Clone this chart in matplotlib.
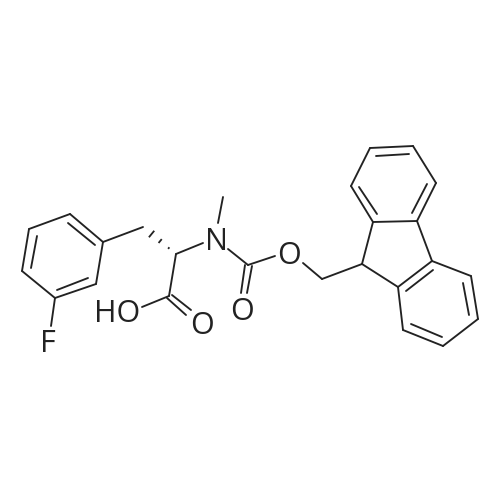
import matplotlib
matplotlib.use("Agg")
import matplotlib.pyplot as plt
import numpy as np

INK = "#222222"
# atom positions (pixels, y down)
atoms = {
    "r1": (70, 214), "r2": (29, 229), "r3": (22, 271), "r4": (55, 298), "r5": (96, 284), "r6": (103, 242),
    "ch2": (143, 227), "ca": (176, 254), "cooh": (169, 296),
    "me": (223, 197), "cb": (248, 265), "och2": (322, 279), "c9": (362, 264),
    "a1": (373, 222), "a2": (351, 186), "a3": (370, 148), "a4": (413, 146), "a5": (436, 183), "a6": (417, 221),
    "b1": (432, 261), "b2": (471, 276), "b3": (478, 319), "b4": (443, 346), "b5": (403, 330), "b6": (398, 287),
}
bonds = [("r1", "r2"), ("r2", "r3"), ("r3", "r4"), ("r4", "r5"), ("r5", "r6"), ("r6", "r1"), ("r6", "ch2"),
         ("ca", "cooh"), ("och2", "c9"), ("c9", "a1"), ("a1", "a2"), ("a2", "a3"), ("a3", "a4"), ("a4", "a5"),
         ("a5", "a6"), ("a6", "a1"), ("a6", "b1"), ("b1", "b2"), ("b2", "b3"), ("b3", "b4"), ("b4", "b5"),
         ("b5", "b6"), ("b6", "b1"), ("b6", "c9")]
# bond segments that stop short of a label, and inner lines of double bonds
segments = [
    ((176, 254), (203, 243)), ((218, 223), (223, 197)), ((228, 249), (248, 265)),
    ((248, 265), (275, 256)), ((303, 263), (322, 279)),
    ((169, 296), (142, 307)), ((55, 298), (51, 326)),
    ((172, 295), (191, 310)), ((167, 298), (186, 315)),
    ((252, 266), (247, 293)), ((245, 265), (241, 293)),
    ((68, 223), (95, 245)), ((37, 236), (31, 268)), ((57, 290), (88, 278)),
    ((359, 187), (377, 214)), ((376, 156), (409, 154)), ((427, 184), (412, 213)),
    ((433, 270), (406, 291)), ((463, 283), (469, 315)), ((442, 337), (411, 324)),
]
labels = [("N", 216, 238), ("O", 289, 252), ("O", 242, 308), ("O", 202, 323), ("HO", 117, 311), ("F", 48, 341)]
hash_fracs = [0.22, 0.48, 0.74]
hash_half = [1.0, 2.5, 4.2]

fig = plt.figure(figsize=(5, 5), dpi=100)
ax = fig.add_axes([0, 0, 1, 1])
ax.set_xlim(0, 500)
ax.set_ylim(500, 0)
ax.axis("off")
lw = 1.35
for p, q in bonds:
    (x0, y0), (x1, y1) = atoms[p], atoms[q]
    ax.plot([x0, x1], [y0, y1], color=INK, lw=lw, solid_capstyle="round")
for (x0, y0), (x1, y1) in segments:
    ax.plot([x0, x1], [y0, y1], color=INK, lw=lw, solid_capstyle="round")

# hashed wedge from the chiral centre to the CH2
start = np.array(atoms["ca"], float)
end = np.array(atoms["ch2"], float)
d = end - start
n = np.array([-d[1], d[0]]) / np.hypot(*d)
for f, h in zip(hash_fracs, hash_half):
    c = start + f * d
    a, b = c - h * n, c + h * n
    ax.plot([a[0], b[0]], [a[1], b[1]], color=INK, lw=1.3, solid_capstyle="butt")

for s, x, y in labels:
    ax.text(x, y, s, ha="center", va="center_baseline", fontsize=22, color=INK, family="Open Sans")
fig.savefig("out.png", dpi=100)
